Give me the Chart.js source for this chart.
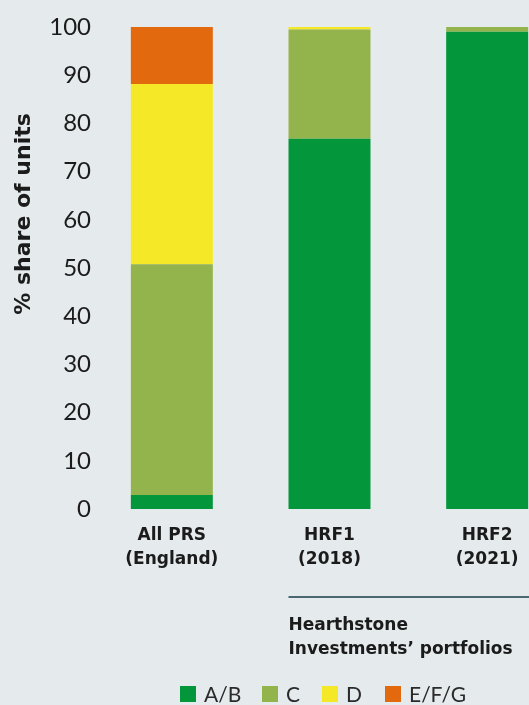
<!DOCTYPE html>
<html lang="en">
<head>
    <meta charset="UTF-8">
    <title>EPC ratings share</title>
    <script src="https://cdn.jsdelivr.net/npm/chart.js"></script>
    <style>
        html, body { margin: 0; padding: 0; overflow: hidden; background: #e5eaed; }
        #wrap { width: 566px; height: 705px; position: relative; }
    </style>
</head>
<body>
    <div id="wrap"><canvas id="grafica"></canvas></div>

    <script>
        // data
        const categories = [['All PRS', '(England)'], ['HRF1', '(2018)'], ['HRF2', '(2021)']];
        const bandAB  = [2.9, 76.8, 99.0];
        const bandC   = [47.9, 22.7, 1.0];
        const bandD   = [37.4, 0.5, 0];
        const bandEFG = [11.8, 0, 0];
        const bandLabels = ['A/B', 'C', 'D', 'E/F/G'];
        const bandColors = ['#03963a', '#93b44d', '#f5e927', '#e3690e'];
        const yTicks = [0, 10, 20, 30, 40, 50, 60, 70, 80, 90, 100];
        const yTitle = '% share of units';
        const groupLabel = ['Hearthstone', 'Investments\u2019 portfolios'];

        const THIN = 'Lato, "Open Sans", sans-serif';
        const BOLD = '"DejaVu Sans", sans-serif';
        const TEXT = '#1b1b1b';

        const extras = {
            id: 'extras',
            afterDraw(chart) {
                const ctx = chart.ctx;
                const x = chart.scales.x;
                ctx.save();

                // y axis title
                ctx.translate(24, 214);
                ctx.rotate(-Math.PI / 2);
                ctx.font = 'bold 22px ' + BOLD;
                ctx.fillStyle = TEXT;
                ctx.textAlign = 'center';
                ctx.textBaseline = 'middle';
                ctx.fillText(yTitle, 0, 0);
                ctx.setTransform(1, 0, 0, 1, 0, 0);

                // bracket line + group label under HRF bars
                const bw = chart.getDatasetMeta(0).data[1].width;
                const left = x.getPixelForValue(1) - bw / 2;
                ctx.strokeStyle = '#4b6771';
                ctx.lineWidth = 2;
                ctx.beginPath();
                ctx.moveTo(left, 597);
                ctx.lineTo(chart.width, 597);
                ctx.stroke();
                ctx.font = 'bold 17px ' + BOLD;
                ctx.textAlign = 'left';
                ctx.fillText(groupLabel[0], left, 626);
                ctx.fillText(groupLabel[1], left, 650);

                // legend
                const legendX = [180, 262, 322, 385];
                ctx.font = '21px ' + THIN;
                bandLabels.forEach((lab, i) => {
                    ctx.fillStyle = bandColors[i];
                    ctx.fillRect(legendX[i], 686, 16, 16);
                    ctx.fillStyle = '#2a2a2a';
                    ctx.fillText(lab, legendX[i] + 24, 695);
                });
                ctx.restore();
            }
        };

        const bands = [bandAB, bandC, bandD, bandEFG];

        const ctx = document.getElementById('grafica').getContext('2d');
        new Chart(ctx, {
            type: 'bar',
            data: {
                labels: categories,
                datasets: bands.map((vals, i) => ({
                    label: bandLabels[i],
                    data: vals,
                    backgroundColor: bandColors[i],
                    borderWidth: 0,
                    categoryPercentage: 1,
                    barPercentage: 0.52
                }))
            },
            options: {
                responsive: true,
                maintainAspectRatio: false,
                animation: false,
                layout: { padding: { top: 27, left: 0, right: 0, bottom: 0 } },
                plugins: {
                    legend: { display: false },
                    tooltip: { enabled: false }
                },
                scales: {
                    x: {
                        stacked: true,
                        grid: { display: false, drawTicks: false },
                        border: { display: false },
                        ticks: {
                            color: TEXT,
                            padding: 15,
                            font: { family: BOLD, size: 17, weight: 'bold', lineHeight: 1.41 }
                        },
                        afterFit(scale) { scale.height = 196; }
                    },
                    y: {
                        stacked: true,
                        min: 0,
                        max: 100,
                        grid: { display: false, drawTicks: false },
                        border: { display: false },
                        afterBuildTicks(scale) { scale.ticks = yTicks.map(v => ({ value: v })); },
                        ticks: {
                            color: TEXT,
                            padding: 2,
                            font: { family: THIN, size: 24 }
                        },
                        afterFit(scale) { scale.width = 93; }
                    }
                }
            },
            plugins: [extras]
        });
    </script>
</body>
</html>
